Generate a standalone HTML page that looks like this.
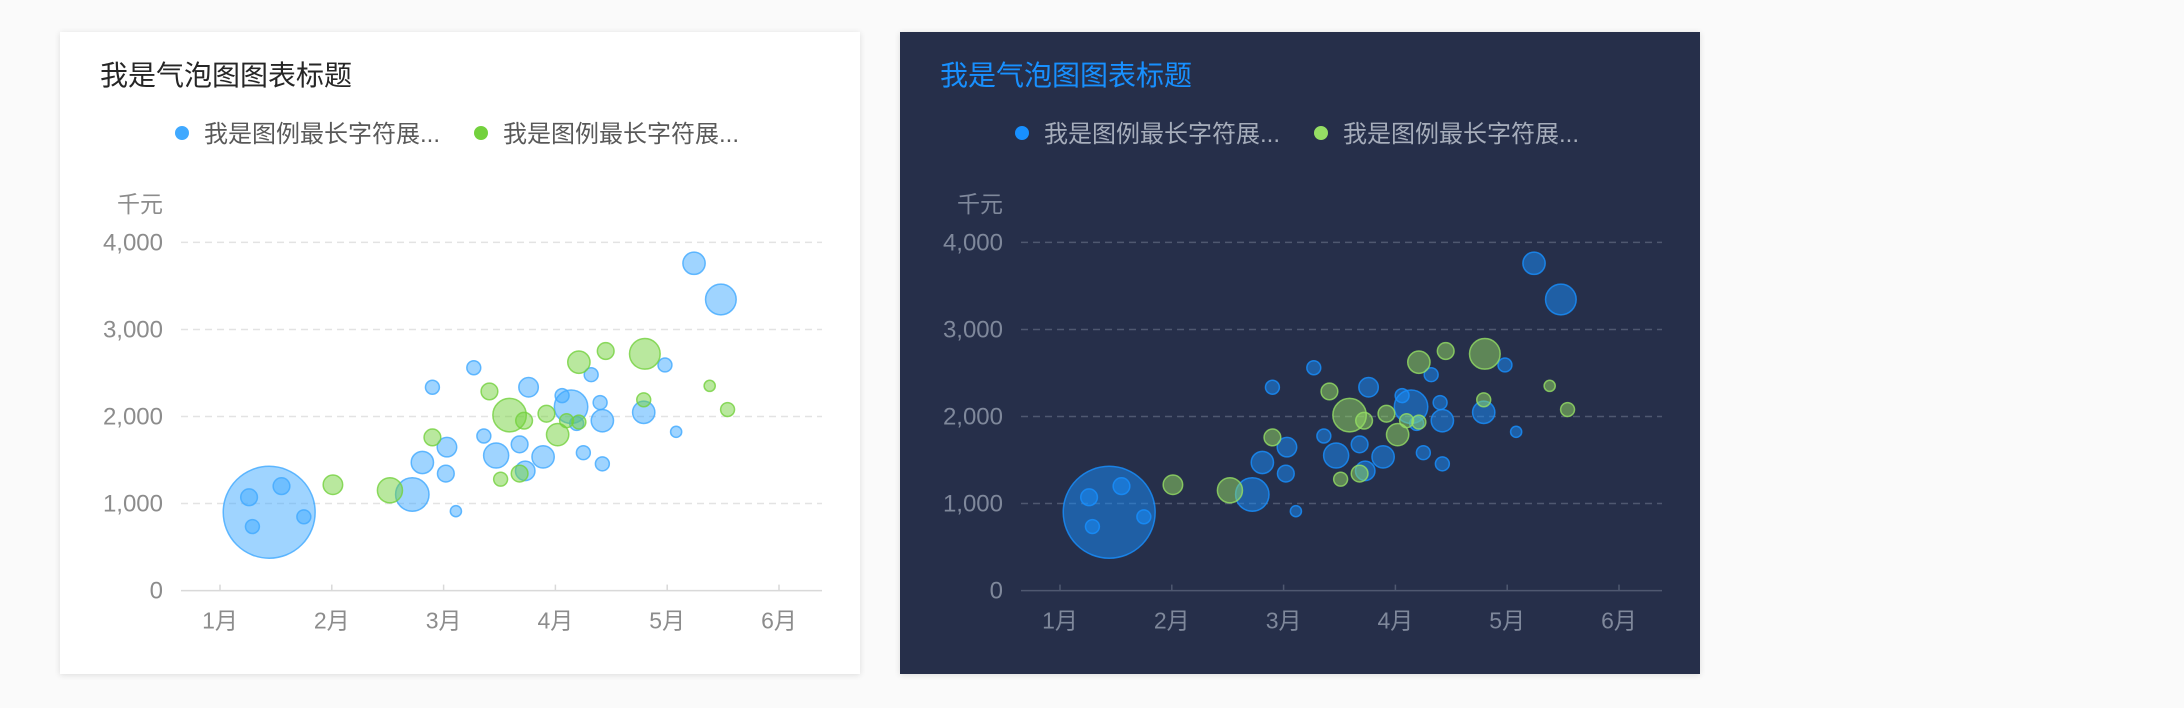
<!DOCTYPE html>
<html><head><meta charset="utf-8">
<style>
body{margin:0;width:2184px;height:708px;background:#fafafa;position:relative;overflow:hidden;font-family:"Liberation Sans","Noto Sans CJK SC",sans-serif;}
.card{position:absolute;top:32px;width:800px;height:642px;}
#c1{left:60px;background:#fff;box-shadow:0 1px 6px rgba(0,0,0,0.12);}
#c2{left:900px;background:#262f4a;box-shadow:0 1px 6px rgba(0,0,0,0.12);}
svg{position:absolute;left:0;top:0;}
</style></head><body>
<div class="card" id="c1"><svg id="s1" width="800" height="642"></svg></div>
<div class="card" id="c2"><svg id="s2" width="800" height="642"></svg></div>
<script>
const months=['1月','2月','3月','4月','5月','6月'];
const yTicks=[0,1000,2000,3000,4000];
const yTickLabels=['0','1,000','2,000','3,000','4,000'];
const blueX=[1.44,1.26,1.55,1.29,1.75,2.72,2.81,3.03,3.02,2.90,3.11,3.27,3.36,3.47,3.68,3.76,3.73,3.89,4.06,4.14,4.19,4.25,4.32,4.40,4.42,4.42,4.79,4.98,5.08,5.24,5.48];
const blueY=[900,1072,1200,736,848,1104,1472,1648,1344,2336,912,2560,1776,1552,1680,2336,1376,1536,2240,2112,1920,1584,2480,2160,1952,1456,2048,2592,1824,3760,3344];
const blueSize=[33,6,6,5,5,12,8,7,6,5,4,5,5,9,6,7,7,8,5,12,5,5,5,5,8,5,8,5,4,8,11];
const greenX=[2.01,2.52,2.90,3.41,3.59,3.72,3.51,3.68,3.92,4.02,4.10,4.21,4.21,4.45,4.80,4.79,5.38,5.54];
const greenY=[1216,1152,1760,2288,2016,1952,1280,1344,2032,1792,1952,2624,1936,2752,2720,2192,2352,2080];
const greenSize=[7,9,6,6,12,6,5,6,6,8,5,8,5,6,11,5,4,5];

const NS='http://www.w3.org/2000/svg';
const S=1.393;
function xs(m){return 160+(m-1)*111.8;}
function ys(v){return 558.6-(v/4000)*348.2;}
function mk(p,tag,attrs){const e=document.createElementNS(NS,tag);for(const k in attrs)e.setAttribute(k,attrs[k]);p.appendChild(e);return e;}
function draw(id,th){
  const s=document.getElementById(id);
  let t=mk(s,'text',{x:40,y:53,'font-size':28,fill:th.title});t.textContent='我是气泡图图表标题';
  
  
  const legs=[[122,th.b,'我是图例最长字符展...'],[421,th.g,'我是图例最长字符展...']];
  legs.forEach((l,i)=>{
    const g=mk(s,'g',{});
    
    
    mk(g,'circle',{cx:l[0],cy:101,r:7,fill:l[1]});
    const tt=mk(g,'text',{x:l[0]+22,y:110,'font-size':24,fill:th.leg});tt.textContent=l[2];
  });
  t=mk(s,'text',{x:103,y:180,'font-size':23,fill:th.tick,'text-anchor':'end'});t.textContent='千元';
  
  
  yTicks.forEach((v,i)=>{
    const y=ys(v);
    if(v>0){const l=mk(s,'line',{x1:121,x2:762,y1:y,y2:y,stroke:th.grid,'stroke-width':1.5,'stroke-dasharray':'7,5'});
      
      }
    const tx=mk(s,'text',{x:103,y:y+8,'font-size':24,fill:th.tick,'text-anchor':'end'});tx.textContent=yTickLabels[i];
    
    
  });
  const ax=mk(s,'line',{x1:121,x2:762,y1:ys(0),y2:ys(0),stroke:th.axis,'stroke-width':1.5});
  
  
  months.forEach((m,i)=>{
    const x=xs(i+1);
    mk(s,'line',{x1:x,x2:x,y1:ys(0),y2:ys(0)-6,stroke:th.axis,'stroke-width':1.5});
    const tx=mk(s,'text',{x:x,y:ys(0)+38,'font-size':23,fill:th.tick,'text-anchor':'middle'});tx.textContent=m;
    
    
  });
  function series(X,Y,R,fill,stroke,name){
    X.forEach((m,i)=>{
      const c=mk(s,'circle',{cx:xs(m),cy:ys(Y[i]),r:R[i]*S,fill:fill,'fill-opacity':th.op,stroke:stroke,'stroke-opacity':0.8,'stroke-width':1.5});
      
      
    });
  }
  series(blueX,blueY,blueSize,th.b,th.bs,'blue-bubble');
  series(greenX,greenY,greenSize,th.g,th.gs,'green-bubble');
}
draw('s1',{title:'#262626',leg:'#595959',tick:'#8c8c8c',grid:'#e3e3e3',axis:'#d9d9d9',b:'#40a9ff',bs:'#40a9ff',g:'#73d13d',gs:'#73d13d',op:0.5});
draw('s2',{title:'#1890ff',leg:'#a6adbb',tick:'#7f889b',grid:'#4f5870',axis:'#4f5870',b:'#1890ff',bs:'#1890ff',g:'#95de64',gs:'#95de64',op:0.5});
</script>
</body></html>
